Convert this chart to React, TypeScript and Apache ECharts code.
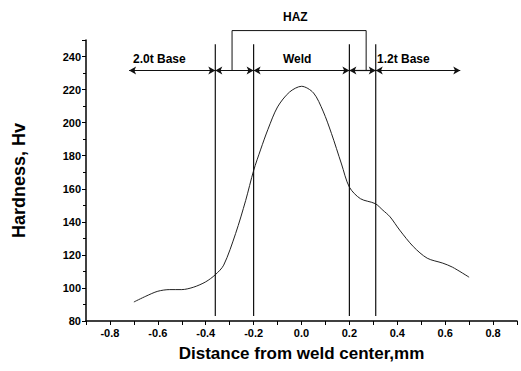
import React, { useEffect, useRef } from "react";
import * as echarts from "echarts";

const curveX = [-0.70, -0.65, -0.60, -0.55, -0.50, -0.45, -0.40, -0.36, -0.325, -0.275, -0.233, -0.20, -0.17, -0.14, -0.10, -0.05, 0.0, 0.05, 0.09, 0.125, 0.167, 0.20, 0.246, 0.308, 0.34, 0.37, 0.41, 0.467, 0.525, 0.59, 0.63, 0.70];
const curveY = [91.5, 95, 98, 99, 99, 100.5, 103.7, 108, 113.8, 133, 153, 171, 184, 196, 209.5, 218.5, 222, 218, 207, 193.5, 175, 161, 154, 151, 147, 143, 135, 125, 118, 115, 112.6, 106.5];

const boundaries = [-0.36, -0.2, 0.2, 0.31];
const boundaryBottom = 83;
const boundaryTop = 247.5;

const arrowLevel = 231.6;
const arrowStops = [-0.72, -0.36, -0.2, 0.2, 0.31, 0.663];

const hazLeft = -0.29;
const hazRight = 0.27;
const hazTop = 255.7;

const regionLabels = ["2.0t Base", "Weld", "1.2t Base"];
const hazLabel = "HAZ";

const FONT = "'Liberation Sans', Arial, sans-serif";

export default function App() {
  const ref = useRef<HTMLDivElement>(null);
  useEffect(() => {
    if (!ref.current) return;
    const chart = echarts.init(ref.current, null, { renderer: "svg" });
    const curve = curveX.map((x, i) => [x, curveY[i]]);
    const vSeries = boundaries.map((b) => ({
      type: "line",
      data: [[b, boundaryBottom], [b, boundaryTop]],
      symbol: "none",
      lineStyle: { color: "#111", width: 1.2 },
      silent: true,
    }));
    const arrowSegs: any[] = [];
    for (let i = 0; i < arrowStops.length - 1; i++) {
      arrowSegs.push([
        { coord: [arrowStops[i], arrowLevel] },
        { coord: [arrowStops[i + 1], arrowLevel] },
      ]);
    }
    chart.setOption({
      animation: false,
      backgroundColor: "#fff",
      grid: { left: 86, right: 4, top: 40, bottom: 50 },
      xAxis: {
        type: "value",
        min: -0.9,
        max: 0.9,
        interval: 0.1,
        name: "Distance from weld center,mm",
        nameLocation: "middle",
        nameGap: 24,
        nameTextStyle: { fontFamily: FONT, fontWeight: "bold", fontSize: 17, color: "#000" },
        axisLine: { onZero: false, lineStyle: { color: "#000", width: 1.5 } },
        axisTick: { inside: false, length: 4, lineStyle: { color: "#000" } },
        splitLine: { show: false },
        axisLabel: {
          fontFamily: FONT,
          fontWeight: "bold",
          fontSize: 11,
          color: "#000",
          margin: 6,
          formatter: (v: number) => {
            const r = Math.round(v * 10);
            if (r % 2 !== 0) return "";
            return (r / 10).toFixed(1);
          },
        },
      },
      yAxis: {
        type: "value",
        min: 80,
        max: 250,
        interval: 20,
        name: "Hardness, Hv",
        nameLocation: "middle",
        nameGap: 58,
        nameTextStyle: { fontFamily: FONT, fontWeight: "bold", fontSize: 18, color: "#000" },
        axisLine: { show: true, onZero: false, lineStyle: { color: "#000", width: 1.5 } },
        axisTick: { inside: false, length: 4, lineStyle: { color: "#000" } },
        minorTick: { show: true, splitNumber: 2, length: 3, lineStyle: { color: "#000" } },
        splitLine: { show: false },
        axisLabel: {
          fontFamily: FONT,
          fontWeight: "bold",
          fontSize: 11,
          color: "#000",
          margin: 5,
          showMaxLabel: false,
        },
      },
      series: [
        {
          type: "line",
          data: curve,
          smooth: 0.3,
          symbol: "none",
          lineStyle: { color: "#222", width: 1 },
        },
        ...vSeries,
        {
          type: "line",
          data: [[hazLeft, arrowLevel], [hazLeft, hazTop], [hazRight, hazTop], [hazRight, arrowLevel]],
          symbol: "none",
          clip: false,
          lineStyle: { color: "#111", width: 1 },
          markLine: {
            silent: true,
            symbol: ["arrow", "arrow"],
            symbolSize: [6, 7],
            label: { show: false },
            lineStyle: { color: "#111", width: 1.2, type: "solid" },
            data: arrowSegs,
          },
        },
      ],
      graphic: [
        { type: "text", left: 283, top: 11, style: { text: hazLabel, font: `bold 12px ${FONT}`, fill: "#000" } },
        { type: "text", left: 133, top: 53, style: { text: regionLabels[0], font: `bold 12px ${FONT}`, fill: "#000" } },
        { type: "text", left: 283, top: 53, style: { text: regionLabels[1], font: `bold 12px ${FONT}`, fill: "#000" } },
        { type: "text", left: 377, top: 53, style: { text: regionLabels[2], font: `bold 12px ${FONT}`, fill: "#000" } },
      ],
    });
    return () => chart.dispose();
  }, []);
  return <div ref={ref} style={{ position: "fixed", left: 0, top: 0, width: 521, height: 371 }} />;
}
